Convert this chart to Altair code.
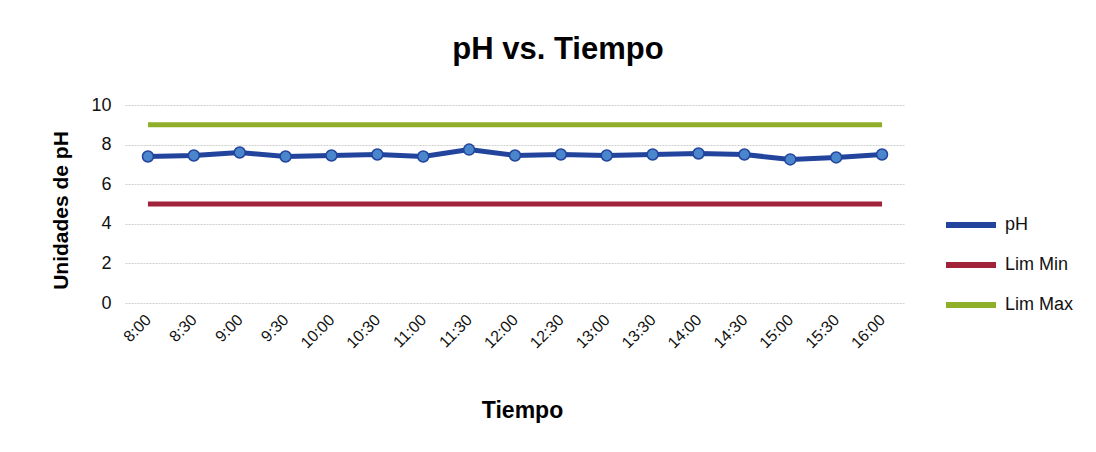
import altair as alt
import pandas as pd

times = ["8:00", "8:30", "9:00", "9:30", "10:00", "10:30", "11:00", "11:30", "12:00",
         "12:30", "13:00", "13:30", "14:00", "14:30", "15:00", "15:30", "16:00"]
ph = [7.4, 7.45, 7.6, 7.4, 7.45, 7.5, 7.4, 7.75, 7.45, 7.5, 7.45, 7.5, 7.55, 7.5, 7.25, 7.35, 7.5]
lim_min = [5, 5, 5, 5, 5, 5, 5, 5, 5, 5, 5, 5, 5, 5, 5, 5, 5]
lim_max = [9, 9, 9, 9, 9, 9, 9, 9, 9, 9, 9, 9, 9, 9, 9, 9, 9]
series = ["pH", "Lim Min", "Lim Max"]
colors = ["#23449c", "#a0233a", "#8fae2a"]
y_ticks = [0, 2, 4, 6, 8, 10]

rows = []
for name, vals in zip(series, [ph, lim_min, lim_max]):
    for t, v in zip(times, vals):
        rows.append({"Tiempo": t, "valor": v, "serie": name})
df = pd.DataFrame(rows)

FONT = "Liberation Sans"
NARROW = "Liberation Sans Narrow, Liberation Sans"

x_enc = alt.X("Tiempo:N", sort=times, title="Tiempo",
              scale=alt.Scale(paddingOuter=0.5),
              axis=alt.Axis(labelAngle=-45, labelAlign="right", labelBaseline="middle",
                            labelPadding=14, labelFontSize=16, labelFont=FONT,
                            labelColor="#111", ticks=False, domain=False, grid=False,
                            titleFont=NARROW, titleFontSize=23, titleFontWeight="bold",
                            titleColor="#000", titleX=397, titleY=107,
                            titleBaseline="middle"))
y_enc = alt.Y("valor:Q", title="Unidades de pH",
              scale=alt.Scale(domain=[0, 10], nice=False),
              axis=alt.Axis(values=y_ticks, labelFontSize=18, labelFont=FONT,
                            labelColor="#111", labelPadding=14, ticks=False, domain=False,
                            gridColor="#cfcfcf", gridWidth=1, gridDash=[2, 1],
                            titleFont=NARROW, titleFontSize=21, titleFontWeight="bold",
                            titleColor="#000", titleX=-64, titleY=105,
                            titleBaseline="middle"))

color_enc = alt.Color("serie:N",
                      scale=alt.Scale(domain=series, range=colors),
                      sort=series,
                      legend=alt.Legend(title=None, orient="none", legendX=818, legendY=92,
                                        symbolType="stroke", symbolStrokeWidth=6,
                                        symbolSize=2500, labelFontSize=18, labelFont=FONT,
                                        labelColor="#111", rowPadding=0, labelOffset=6))

lines = alt.Chart(df).mark_line(strokeWidth=5).encode(
    x=x_enc, y=y_enc, color=color_enc, order=alt.Order("serie:N"))

points = alt.Chart(df).transform_filter(alt.datum.serie == "pH").mark_point(
    shape="circle", filled=True, size=120, fill="#4a86cc", stroke="#23449c",
    strokeWidth=1.5, opacity=1).encode(x=x_enc, y=y_enc)

chart = alt.layer(lines, points).properties(
    width=780, height=198,
    background="white",
    autosize=alt.AutoSizeParams(type="none"),
    padding={"left": 117, "top": 97, "right": 183, "bottom": 141},
    title=alt.TitleParams("pH vs. Tiempo", font=NARROW, fontSize=31, fontWeight="bold",
                          color="#000", anchor="middle", dx=43, offset=30),
).configure_view(strokeOpacity=0, stroke="transparent")

chart.save("out.html", embed_options={"renderer": "svg", "actions": False})
